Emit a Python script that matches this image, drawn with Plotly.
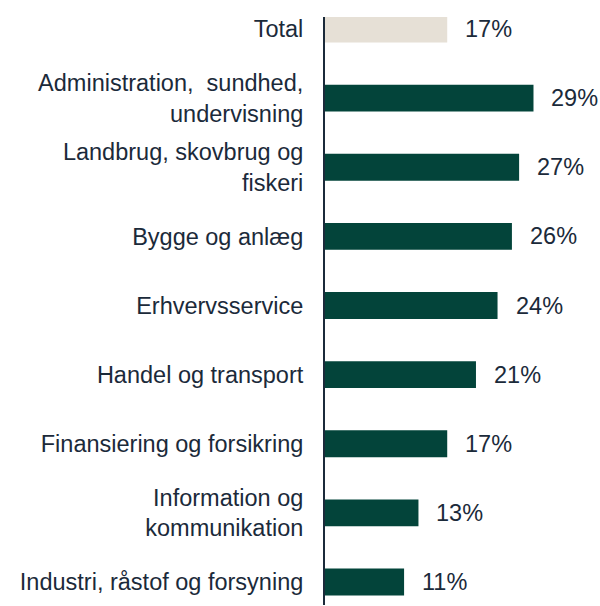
import plotly.graph_objects as go

# Categories top to bottom, values in percent
categories = [
    "Total",
    "Administration,  sundhed,<br>undervisning",
    "Landbrug, skovbrug og<br>fiskeri",
    "Bygge og anlæg",
    "Erhvervsservice",
    "Handel og transport",
    "Finansiering og forsikring",
    "Information og<br>kommunikation",
    "Industri, råstof og forsyning",
]
values = [17, 29, 27, 26, 24, 21, 17, 13, 11]

TEXT = "#1b2a3a"
GREEN = "#03443a"
BEIGE = "#e6e0d6"
colors = [BEIGE] + [GREEN] * (len(values) - 1)

fig = go.Figure(go.Bar(
    x=values,
    y=categories,
    orientation="h",
    marker=dict(color=colors, line=dict(width=0)),
    width=0.39,
    hoverinfo="skip",
))

# value labels to the right of each bar
for c, v in zip(categories, values):
    fig.add_annotation(x=v, y=c, text=f"{v}%", showarrow=False,
                       xanchor="left", xshift=16,
                       font=dict(size=23.5, color=TEXT))

fig.update_layout(
    width=600, height=606,
    margin=dict(l=325, r=9, t=17, b=1),
    paper_bgcolor="white", plot_bgcolor="white",
    font=dict(family="Liberation Sans, Arial, sans-serif", size=23.5, color=TEXT),
    showlegend=False,
    xaxis=dict(range=[0, 37], visible=False),
    yaxis=dict(
        categoryorder="array", categoryarray=categories,
        range=[8.333, -0.174],
        automargin=False,
        showline=True, linecolor=TEXT, linewidth=2,
        showgrid=False, zeroline=False, ticks="",
        ticklabelstandoff=15,
        tickfont=dict(size=23.5, color=TEXT),
    ),
)

# drop the browser's default page margin so the figure sits at the corner
fig.write_html("out.html", config={"displayModeBar": False},
               post_script="document.body.style.margin='0';")
